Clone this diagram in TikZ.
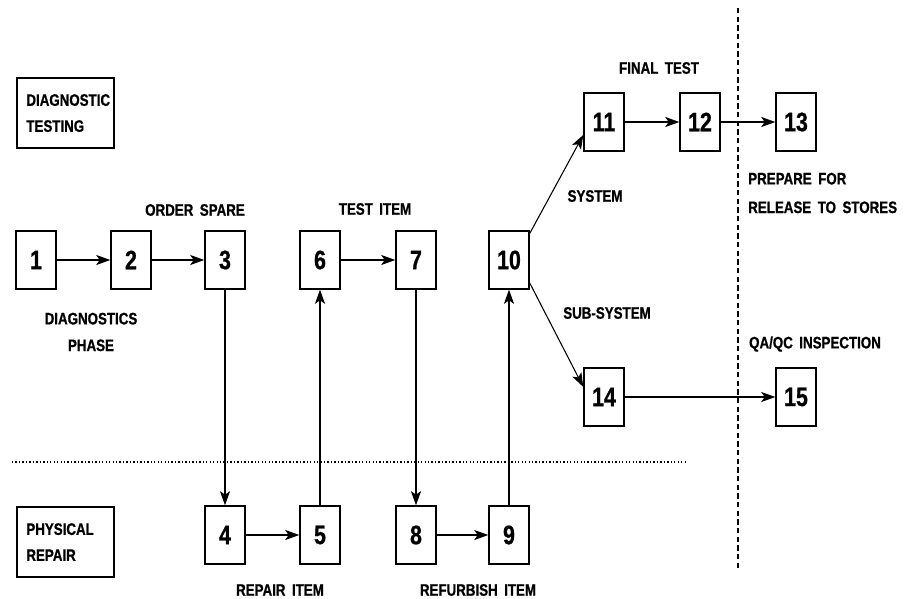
\documentclass[tikz,border=0pt]{standalone}
\usepackage{fontspec}
\setmainfont{Liberation Sans}[FakeStretch=0.8, BoldFeatures={FakeBold=0.8}]
\usetikzlibrary{arrows.meta}

\tikzset{
    stepbox/.style={draw, line width=1.6pt, minimum width=29.5pt, minimum height=43pt, inner sep=0pt,
        font=\fontsize{20}{20}\selectfont\bfseries},
    lbl/.style={inner sep=0pt, font=\fontsize{12.5}{20}\selectfont\bfseries},
    phasebox/.style={draw, line width=1.6pt, anchor=north west, minimum height=52.5pt, text width=59pt,
        inner xsep=7pt, inner ysep=0pt, align=left, font=\fontsize{12.5}{19.5}\selectfont\bfseries},
    flow/.style={line width=0.8pt, -{Stealth[length=10.5pt,width=7.5pt,inset=2.5pt]}},
}

\begin{document}
\begin{tikzpicture}[x=0.75pt,y=0.75pt,yscale=-1,xscale=1]
    \useasboundingbox (0,0) rectangle (910,599);

    %Phase boxes
    \node[phasebox] (diagtest) at (16,77) {DIAGNOSTIC\\TESTING};
    \node[phasebox] (physrep) at (16,506) {PHYSICAL\\REPAIR};

    %Steps, diagnostic testing row
    \node[stepbox] (b1) at (36,260) {1};
    \node[stepbox] (b2) at (131,260) {2};
    \node[stepbox] (b3) at (225,260) {3};
    \node[stepbox] (b6) at (320,260) {6};
    \node[stepbox] (b7) at (416,260) {7};
    \node[stepbox] (b10) at (509,260) {10};
    \node[stepbox] (b11) at (604,122) {11};
    \node[stepbox] (b12) at (700,122) {12};
    \node[stepbox] (b13) at (796,122) {13};
    \node[stepbox] (b14) at (604,397) {14};
    \node[stepbox] (b15) at (796,397) {15};

    %Steps, physical repair row
    \node[stepbox] (b4) at (225,535) {4};
    \node[stepbox] (b5) at (320,535) {5};
    \node[stepbox] (b8) at (416,535) {8};
    \node[stepbox] (b9) at (509,535) {9};

    %Dividers
    \draw[line width=1pt, dash pattern=on 1pt off 1.6pt] (12,462) -- (685,462);
    \draw[line width=2.2pt, dash pattern=on 4pt off 2.5pt] (738,8) -- (738,568);

    %Connectors
    \draw[flow] (b1) -- (b2);
    \draw[flow] (b2) -- (b3);
    \draw[flow] (b3) -- (b4);
    \draw[flow] (b4) -- (b5);
    \draw[flow] (b5) -- (b6);
    \draw[flow] (b6) -- (b7);
    \draw[flow] (b7) -- (b8);
    \draw[flow] (b8) -- (b9);
    \draw[flow] (b9) -- (b10);
    \draw[flow] (b10.52) -- (b11.212);
    \draw[flow] (b10.312) -- (b14.154);
    \draw[flow] (b11) -- (b12);
    \draw[flow] (b12) -- (b13);
    \draw[flow] (b14) -- (b15);

    % Text Node
    \node[lbl] (ordersp) at (195,210) {ORDER\ \,SPARE};
    \node[lbl, align=center] (diagph) at (91,332) {DIAGNOSTICS\\PHASE};
    \node[lbl] (testit) at (375,209) {TEST\ \,ITEM};
    \node[lbl] (finalt) at (659,68) {FINAL\ \,TEST};
    \node[lbl] (sys) at (595,196) {SYSTEM};
    \node[lbl] (subsys) at (607,313) {SUB-SYSTEM};
    \node[lbl, anchor=west, align=left, font=\fontsize{12.5}{21.5}\selectfont\bfseries] (prep) at (748,193) {PREPARE\ \,FOR\\RELEASE\ \,TO\ \,STORES};
    \node[lbl] (qaqc) at (815,344) {QA/QC\ \,INSPECTION};
    \node[lbl] (repit) at (280,590) {REPAIR\ \,ITEM};
    \node[lbl] (refit) at (478,590) {REFURBISH\ \,ITEM};

\end{tikzpicture}
\end{document}
